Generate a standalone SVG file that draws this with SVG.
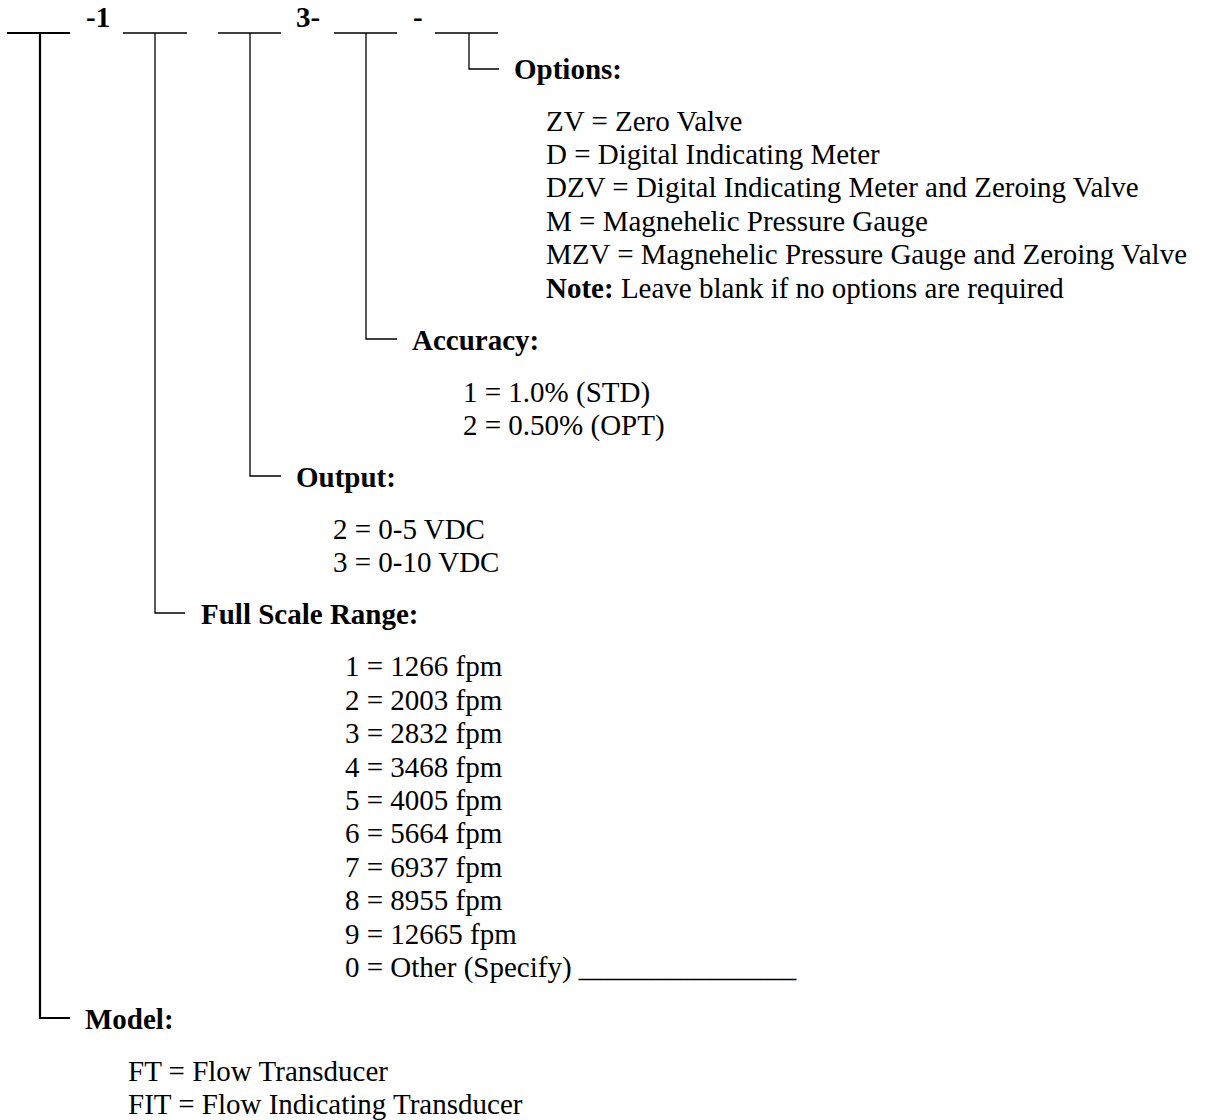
<svg xmlns="http://www.w3.org/2000/svg" width="1219" height="1120" viewBox="0 0 1219 1120">
<style>
text{font-family:"Liberation Serif","Times New Roman",serif;font-size:29px;fill:#000}
.b{font-weight:bold}
.ln{stroke:#000;stroke-width:1.3;fill:none}
.thk{stroke:#000;stroke-width:2.2;fill:none}
</style>
<rect width="1219" height="1120" fill="#fff"/>
<g id="code">
<text class="b" x="86" y="27">-1</text>
<text class="b" x="296" y="27">3-</text>
<text class="b" x="413" y="27">-</text>
</g>
<g id="connectors">
<path class="thk" d="M7 33H70M40 33V1018H70"/>
<path class="ln" d="M123 33H187M155 33V613H185"/>
<path class="ln" d="M218 33H281M250 33V476H281"/>
<path class="ln" d="M334 33H397M366 33V339H397"/>
<path class="ln" d="M435 33H498M469 33V69H499"/>
</g>
<g id="options">
<text class="b" x="514" y="79">Options:</text>
<text x="546" y="131">ZV = Zero Valve</text>
<text x="546" y="164">D = Digital Indicating Meter</text>
<text x="546" y="197">DZV = Digital Indicating Meter and Zeroing Valve</text>
<text x="546" y="231">M = Magnehelic Pressure Gauge</text>
<text x="546" y="264">MZV = Magnehelic Pressure Gauge and Zeroing Valve</text>
<text x="546" y="298"><tspan class="b">Note:</tspan> Leave blank if no options are required</text>
</g>
<g id="accuracy">
<text class="b" x="412" y="350">Accuracy:</text>
<text x="463" y="402">1 = 1.0% (STD)</text>
<text x="463" y="435">2 = 0.50% (OPT)</text>
</g>
<g id="output">
<text class="b" x="296" y="487">Output:</text>
<text x="333" y="539">2 = 0-5 VDC</text>
<text x="333" y="572">3 = 0-10 VDC</text>
</g>
<g id="fullscale">
<text class="b" x="201" y="624">Full Scale Range:</text>
<text x="345" y="676">1 = 1266 fpm</text>
<text x="345" y="710">2 = 2003 fpm</text>
<text x="345" y="743">3 = 2832 fpm</text>
<text x="345" y="777">4 = 3468 fpm</text>
<text x="345" y="810">5 = 4005 fpm</text>
<text x="345" y="843">6 = 5664 fpm</text>
<text x="345" y="877">7 = 6937 fpm</text>
<text x="345" y="910">8 = 8955 fpm</text>
<text x="345" y="944">9 = 12665 fpm</text>
<text x="345" y="977">0 = Other (Specify) _______________</text>
</g>
<g id="model">
<text class="b" x="85" y="1029">Model:</text>
<text x="128" y="1081">FT = Flow Transducer</text>
<text x="128" y="1114">FIT = Flow Indicating Transducer</text>
</g>
</svg>
